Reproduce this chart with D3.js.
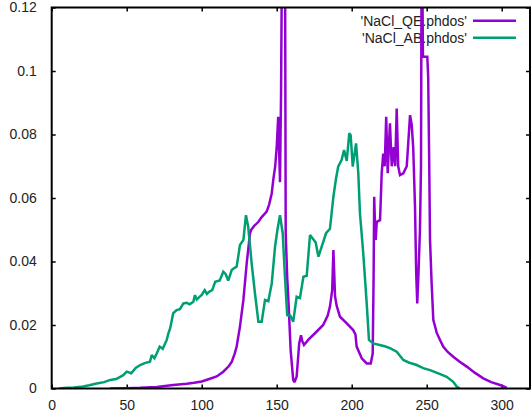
<!DOCTYPE html>
<html>
<head>
<meta charset="utf-8">
<script src="https://cdn.jsdelivr.net/npm/d3@7"></script>
<style>
  html, body { margin: 0; padding: 0; background: #fff; }
  svg { display: block; }
  text { font-family: "Liberation Sans", Arial, sans-serif; fill: #222; }
</style>
</head>
<body>
<script>
// ---- data ----
const seriesNames = ["'NaCl_QE.phdos'", "'NaCl_AB.phdos'"];
const seriesColors = ["#9400d3", "#009e73"];
const xTicks = [0, 50, 100, 150, 200, 250, 300];
const yTicks = [0, 0.02, 0.04, 0.06, 0.08, 0.1, 0.12];
const yTickLabels = ["0", "0.02", "0.04", "0.06", "0.08", "0.1", "0.12"];

const qeX = [39, 50, 59, 70, 81, 90, 95, 100, 105, 110, 114.4, 118, 120, 122, 123.3, 125.5, 127.8, 130, 132.2, 133, 135, 137.8, 140, 143.3, 145, 146.7, 147.8, 149, 150, 151, 152.2, 152.9, 153.7, 154.6, 155.5, 156, 157, 157.8, 159.3, 161, 161.8, 163.3, 165, 166.2, 167, 168.2, 171, 175.5, 181, 184, 185.5, 187, 187.8, 188.9, 190, 192.2, 196.7, 201, 202.5, 203.3, 206.7, 210, 212.7, 214, 214.6, 215, 215.6, 216, 216.7, 218.9, 220, 221, 222, 223, 224, 225.5, 226.7, 228, 229, 230, 231, 232.2, 234.4, 236.7, 238.9, 240, 241, 242.2, 243, 243.7, 244.5, 245.5, 246.2, 246.6, 247.0, 247.5, 250.4, 251, 251.7, 252.2, 253.3, 254.4, 256.7, 258.9, 261, 264, 267.7, 272, 276.7, 282, 287.7, 293, 298.9, 303.3];
const qeY = [0, 0.0001, 0.0002, 0.0005, 0.0011, 0.0015, 0.0018, 0.0022, 0.003, 0.0038, 0.0053, 0.007, 0.0084, 0.011, 0.0132, 0.0195, 0.0279, 0.0394, 0.0489, 0.05, 0.0512, 0.0525, 0.054, 0.0557, 0.058, 0.0615, 0.066, 0.07, 0.076, 0.0856, 0.065, 0.093, 0.15, 0.2, 0.15, 0.049, 0.035, 0.0279, 0.0121, 0.0027, 0.002, 0.0037, 0.0142, 0.0168, 0.015, 0.0137, 0.0153, 0.0174, 0.02, 0.023, 0.0258, 0.031, 0.0436, 0.029, 0.026, 0.0226, 0.0205, 0.0184, 0.017, 0.0132, 0.0095, 0.0079, 0.0079, 0.011, 0.035, 0.0604, 0.05, 0.0468, 0.0525, 0.053, 0.0678, 0.074, 0.07, 0.0856, 0.0678, 0.0835, 0.07, 0.076, 0.07, 0.0882, 0.07, 0.0672, 0.0678, 0.07, 0.0861, 0.083, 0.076, 0.0573, 0.0363, 0.0268, 0.036, 0.05, 0.07, 0.135, 0.135, 0.1045, 0.1045, 0.098, 0.07, 0.047, 0.033, 0.0216, 0.0175, 0.0153, 0.0132, 0.0115, 0.01, 0.0084, 0.0069, 0.005, 0.0032, 0.002, 0.0011, 0.0003];

const abX = [5, 10, 15, 21, 25, 30, 35, 39, 43, 47.7, 50, 53, 56, 59, 62, 65.5, 66.7, 68.5, 70, 72, 74, 76.7, 77.8, 79, 81, 83.3, 85.5, 87.8, 90, 92, 94.4, 95.5, 96.7, 98.9, 100, 102, 103.5, 105, 107, 109, 112, 114.4, 116, 117.7, 120, 122, 123.3, 124.5, 125.5, 127.8, 129.5, 131, 133.3, 135.5, 137.8, 140, 142.2, 144.4, 146.7, 148.9, 150.5, 152.2, 154, 155.5, 157, 159, 161, 163.3, 165.5, 167.8, 170, 172.2, 174.4, 176, 177.8, 180, 182.9, 185.5, 187.8, 189.5, 191, 193.3, 194.9, 196.7, 198.4, 199.3, 200.7, 202.9, 204.4, 205.5, 207.7, 210, 211.5, 214.4, 218, 222, 225.5, 230, 234.4, 238, 243.3, 247.7, 252.2, 259, 263.3, 267.7, 270, 272];
const abY = [0, 0.0002, 0.0003, 0.0006, 0.001, 0.0016, 0.002, 0.0027, 0.003, 0.0042, 0.0053, 0.0048, 0.0065, 0.0074, 0.008, 0.0084, 0.0105, 0.0095, 0.011, 0.0132, 0.0125, 0.0153, 0.0174, 0.019, 0.0237, 0.0247, 0.025, 0.0268, 0.027, 0.0265, 0.0273, 0.0294, 0.028, 0.029, 0.0295, 0.031, 0.0298, 0.0305, 0.031, 0.0336, 0.034, 0.0368, 0.036, 0.034, 0.0373, 0.038, 0.0384, 0.042, 0.0452, 0.0468, 0.0546, 0.051, 0.0394, 0.030, 0.021, 0.021, 0.0279, 0.0275, 0.0331, 0.0447, 0.05, 0.0546, 0.0489, 0.0352, 0.0231, 0.023, 0.021, 0.0289, 0.0285, 0.0352, 0.0355, 0.0483, 0.047, 0.046, 0.0415, 0.0447, 0.0489, 0.0503, 0.0604, 0.066, 0.0699, 0.072, 0.0751, 0.0717, 0.0804, 0.0798, 0.0699, 0.0772, 0.0678, 0.0552, 0.0426, 0.0268, 0.0153, 0.0142, 0.0138, 0.0133, 0.0127, 0.0116, 0.009, 0.0082, 0.0074, 0.0064, 0.0058, 0.0045, 0.0037, 0.0021, 0.0006, 0];

// ---- layout ----
const W = 532, H = 417;
const pL = 51.7, pR = 530, pT = 7.5, pB = 388.5;

const x = d3.scaleLinear().domain([0, (pR - pL) / 1.5]).range([pL, pR]);
const y = d3.scaleLinear().domain([0, 0.12]).range([pB, pT]);

const svg = d3.select("body").append("svg").attr("width", W).attr("height", H);

svg.append("clipPath").attr("id", "clip")
  .append("rect").attr("x", pL).attr("y", pT).attr("width", pR - pL).attr("height", pB - pT);

// axes with inward ticks + mirrored
const tickLen = 4;
const axisG = svg.append("g");
const xb = d3.axisBottom(x).tickValues(xTicks).tickSize(-tickLen).tickPadding(12).tickFormat(d3.format("d"));
const xt = d3.axisTop(x).tickValues(xTicks).tickSize(-tickLen).tickFormat("");
const yl = d3.axisLeft(y).tickValues(yTicks).tickSize(-tickLen).tickPadding(15).tickFormat((d, i) => yTickLabels[i]);
const yr = d3.axisRight(y).tickValues(yTicks).tickSize(-tickLen).tickFormat("");

function styleAxis(g) {
  g.select(".domain").remove();
  g.selectAll(".tick line").attr("stroke", "#000").attr("stroke-width", 1.5);
  g.selectAll(".tick text").style("font-size", "14px").style("font-family", "'Liberation Sans', Arial, sans-serif").attr("fill", "#222");
}
axisG.append("g").attr("transform", `translate(0,${pB})`).call(xb).call(styleAxis)
  .selectAll(".tick text").attr("dy", "0.71em");
axisG.append("g").attr("transform", `translate(0,${pT})`).call(xt).call(styleAxis);
axisG.append("g").attr("transform", `translate(${pL},0)`).call(yl).call(styleAxis);
axisG.append("g").attr("transform", `translate(${pR},0)`).call(yr).call(styleAxis);

// legend
const legY = [20.7, 37.7];
seriesNames.forEach((name, i) => {
  svg.append("text").attr("x", 467).attr("y", legY[i]).attr("dy", "0.35em")
    .attr("text-anchor", "end").style("font-size", "14px").text(name);
  svg.append("line").attr("x1", 473).attr("x2", 516).attr("y1", legY[i]).attr("y2", legY[i])
    .attr("stroke", seriesColors[i]).attr("stroke-width", 2.5);
});

// curves
const line = d3.line().x(d => x(d[0])).y(d => y(d[1]));
const series = [d3.zip(qeX, qeY), d3.zip(abX, abY)];
series.forEach((pts, i) => {
  svg.append("path").datum(pts).attr("d", line).attr("clip-path", "url(#clip)")
    .attr("fill", "none").attr("stroke", seriesColors[i]).attr("stroke-width", 2.5)
    .attr("stroke-linejoin", "miter").attr("stroke-miterlimit", 2);
});

// border
svg.append("rect").attr("x", pL).attr("y", pT).attr("width", pR - pL).attr("height", pB - pT)
  .attr("fill", "none").attr("stroke", "#000").attr("stroke-width", 2);
</script>
</body>
</html>
